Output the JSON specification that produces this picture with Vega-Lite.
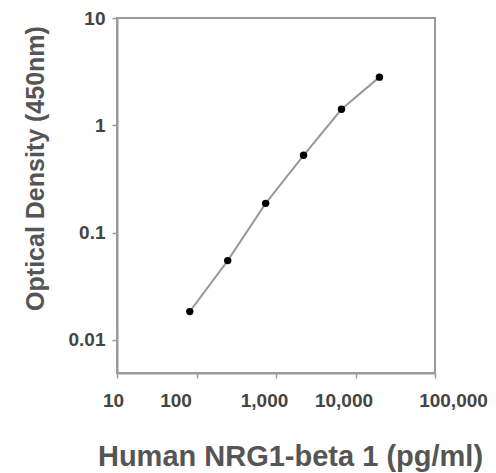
{
  "$schema": "https://vega.github.io/schema/vega-lite/v6.json",
  "autosize": "none",
  "padding": {"left": 117, "top": 18, "right": 61, "bottom": 100},
  "width": 318,
  "height": 355,
  "background": "white",
  "config": {
    "view": {"stroke": "#9a9a9a", "strokeWidth": 2},
    "font": "Liberation Sans",
    "axis": {
      "domainColor": "#9a9a9a",
      "domainWidth": 2,
      "tickColor": "#9a9a9a",
      "tickWidth": 1.5,
      "tickSize": 5,
      "grid": false,
      "labelFont": "Liberation Sans",
      "labelFontSize": 19,
      "labelFontWeight": "bold",
      "labelColor": "#444444",
      "titleFont": "Liberation Sans",
      "titleFontWeight": "bold",
      "titleColor": "#555555"
    }
  },
  "data": {
    "values": [
      {"conc": 82.3, "od": 0.0183},
      {"conc": 247, "od": 0.0547},
      {"conc": 741, "od": 0.187},
      {"conc": 2222, "od": 0.525},
      {"conc": 6667, "od": 1.41},
      {"conc": 20000, "od": 2.81}
    ]
  },
  "encoding": {
    "x": {
      "field": "conc",
      "type": "quantitative",
      "scale": {"type": "log", "domain": [10, 100000], "nice": false},
      "axis": {
        "title": "Human NRG1-beta 1 (pg/ml)",
        "titleFontSize": 29,
        "titleX": 173,
        "values": [10, 100, 1000, 10000, 100000],
        "format": ",",
        "labelPadding": 13,
        "titlePadding": 32,
        "labelFlush": false,
        "labelOffset": {
          "condition": [
            {"test": "datum.value == 10", "value": -4},
            {"test": "datum.value == 100", "value": -21},
            {"test": "datum.value == 1000", "value": -12},
            {"test": "datum.value == 10000", "value": -12},
            {"test": "datum.value == 100000", "value": 18}
          ],
          "value": 0
        }
      }
    },
    "y": {
      "field": "od",
      "type": "quantitative",
      "scale": {"type": "log", "domain": [0.0049, 10], "nice": false},
      "axis": {
        "title": "Optical Density (450nm)",
        "titleFontSize": 25,
        "titleY": 150,
        "values": [0.01, 0.1, 1, 10],
        "format": "~g",
        "labelPadding": 7,
        "titlePadding": 20,
        "labelFlush": false
      }
    }
  },
  "layer": [
    {"mark": {"type": "line", "color": "#999999", "strokeWidth": 2}},
    {"mark": {"type": "point", "filled": true, "color": "#000000", "size": 55, "opacity": 1}}
  ]
}
